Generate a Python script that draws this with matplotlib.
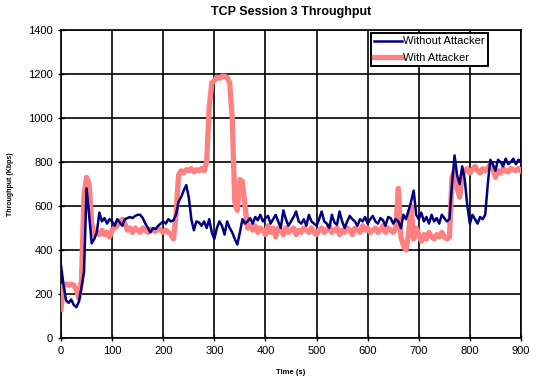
import numpy as np
import matplotlib
matplotlib.use("Agg")
from matplotlib import pyplot as plt

plt.rcParams['font.family'] = ['Liberation Sans', 'DejaVu Sans']

# time axis, one sample every 5 s
time_s = np.arange(0, 905, 5)

without_attacker = [
    330, 240, 170, 160, 175, 150, 140, 165, 230, 300,
    680, 560, 430, 450, 480, 570, 530, 545, 520, 540,
    530, 510, 540, 525, 510, 540, 545, 550, 545, 555,
    560, 560, 545, 520, 500, 480, 500, 495, 510, 520,
    530, 520, 540, 530, 535, 560, 620, 640, 670, 695,
    640, 540, 490, 530, 525, 510, 530, 500, 540, 480,
    450, 500, 530, 510, 470, 530, 500, 480, 450, 425,
    480, 540, 520, 530, 545, 520, 550, 535, 560, 530,
    545, 555, 520, 540, 560, 530, 500, 580, 540, 510,
    530, 550, 575, 530, 520, 540, 510, 560, 530, 520,
    510, 540, 575, 530, 520, 500, 560, 525, 515, 575,
    530, 500, 530, 555, 540, 530, 510, 540, 530, 550,
    520, 540, 555, 530, 520, 545, 535, 510, 550, 545,
    520, 540, 530, 500, 560, 540, 580, 620, 670, 560,
    540, 570, 530, 550, 520, 560, 530, 545, 520, 560,
    545, 530, 540, 700, 830, 740, 700, 780, 720, 600,
    520, 560, 540, 520, 550, 540, 560, 700, 810, 790,
    760, 810, 800, 780, 815, 790, 800, 815, 790, 810,
    800,
]

with_attacker = [
    130, 240, 245, 240, 245, 240, 220, 180, 260, 650,
    730, 700, 520, 470, 480, 470, 490, 470, 480, 460,
    490, 500, 510, 530, 540, 520, 490, 500, 480, 500,
    490, 480, 500, 490, 480, 495, 490, 485, 500, 490,
    480, 490, 480, 470, 450, 560, 740, 760, 750, 765,
    760, 770, 755, 765, 760, 770, 760, 800, 1050, 1160,
    1170, 1185, 1180, 1190, 1190, 1185, 1160, 1000, 620, 580,
    720, 710, 600, 500, 510, 490, 510, 480, 500, 490,
    470, 510, 480, 500, 460, 500, 490, 470, 500, 480,
    490, 500, 470, 490, 480, 500, 490, 480, 500, 480,
    470, 490, 500, 480, 490, 510, 480, 490, 500, 470,
    490, 480, 500, 490, 470, 500, 490, 480, 510, 490,
    500, 480, 490, 500, 480, 490, 510, 480, 500, 490,
    480, 500, 680, 460, 420, 400, 470, 600, 450, 500,
    470, 440, 470, 450, 480, 460, 450, 470, 460, 480,
    460, 450, 460, 730, 760, 680, 640, 740, 760, 770,
    750, 765, 780, 760, 750, 770, 760, 770, 790, 770,
    730, 760, 750, 770, 760, 755, 770, 765, 760, 770,
    760,
]

fig = plt.figure(figsize=(5.37, 3.83), dpi=100)
ax = fig.add_axes([0.1136, 0.1175, 0.8566, 0.8042])

ax.plot(time_s, with_attacker, color='#ff8080', lw=3.8, label='With Attacker', zorder=3)
ax.plot(time_s, without_attacker, color='#000080', lw=1.8, label='Without Attacker', zorder=4)

ax.set_xlim(0, 900)
ax.set_ylim(0, 1400)
ax.set_xticks(range(0, 901, 100))
ax.set_yticks(range(0, 1401, 200))
ax.grid(True, color='black', lw=1.2)
ax.set_axisbelow(True)
for s in ax.spines.values():
    s.set_color('black')
    s.set_linewidth(1.2)
ax.tick_params(direction='inout', length=5, labelsize=8, width=1)

ax.set_title('TCP Session 3 Throughput', fontsize=9, fontweight='bold', pad=11)
ax.set_xlabel('Time (s)', fontsize=5.5, fontweight='bold', labelpad=9)
ax.set_ylabel('Throughput (Kbps)', fontsize=5, fontweight='bold', labelpad=10)

h, l = ax.get_legend_handles_labels()
leg = ax.legend(h[::-1], l[::-1], loc='upper right', bbox_to_anchor=(0.928, 0.99),
                fontsize=8, frameon=True, fancybox=False, framealpha=1,
                edgecolor='black', borderpad=0.3, handlelength=2.5,
                handletextpad=0.1, labelspacing=0.55, borderaxespad=0)
leg.get_frame().set_linewidth(1.4)

fig.savefig('out.png', dpi=100)
